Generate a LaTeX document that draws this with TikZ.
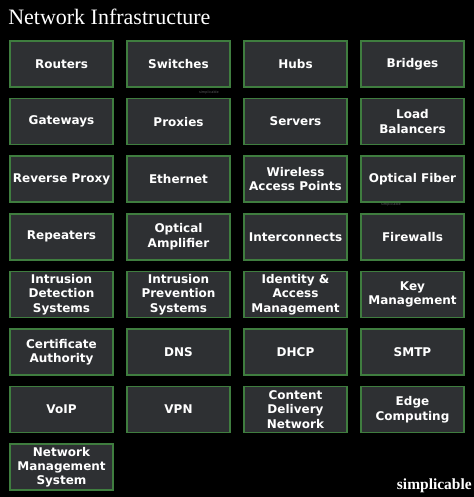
\documentclass[tikz,border=0pt]{standalone}
\usepackage{fontspec}
\setmainfont{DejaVu Sans}
\newfontfamily\titlefont{Liberation Serif}
\definecolor{boxfill}{HTML}{2E3033}
\definecolor{boxline}{HTML}{3F7D3F}
\definecolor{markgray}{HTML}{5A5C5E}
\tikzset{
  item/.style={draw=boxline, fill=boxfill, line width=1.1pt, minimum width=77pt, minimum height=34.5pt,
    inner sep=0pt, align=center, text=white, font=\bfseries\fontsize{9}{10.8}\selectfont},
  watermark/.style={text=markgray, font=\fontsize{2.6}{3}\selectfont, inner sep=0pt}
}
\begin{document}
\begin{tikzpicture}[x=0.75pt,y=-0.75pt]
\fill[black] (0,0) rectangle (474,497);
\useasboundingbox (0,0) rectangle (474,497);
\node[anchor=base west, text=white, inner sep=0pt, font=\titlefont\fontsize{16.5}{18}\selectfont] (title) at (8,24) {Network Infrastructure};
% grid of items, four per row
\foreach [count=\n from 0] \t in {Routers,Switches,Hubs,Bridges,
  Gateways,Proxies,Servers,{Load\\Balancers},
  {Reverse Proxy},Ethernet,{Wireless\\Access Points},{Optical Fiber},
  Repeaters,{Optical\\Amplifier},Interconnects,Firewalls,
  {Intrusion\\Detection\\Systems},{Intrusion\\Prevention\\Systems},{Identity \&\\Access\\Management},{Key\\Management},
  {Certificate\\Authority},DNS,DHCP,SMTP,
  VoIP,VPN,{Content\\Delivery\\Network},{Edge\\Computing},
  {Network\\Management\\System}}{
  \pgfmathtruncatemacro{\col}{mod(\n,4)}
  \pgfmathtruncatemacro{\row}{int(\n/4)}
  \node[item] (item\n) at (61.5+117*\col, 64+57.6*\row) {\t};
}
\node[watermark] (mark1) at (209,93) {simplicable};
\node[watermark] (mark2) at (391,205) {simplicable};
\node[anchor=base east, text=white, inner sep=0pt, font=\titlefont\bfseries\fontsize{11.6}{13}\selectfont] (brand) at (472,489) {simplicable};
\end{tikzpicture}
\end{document}
